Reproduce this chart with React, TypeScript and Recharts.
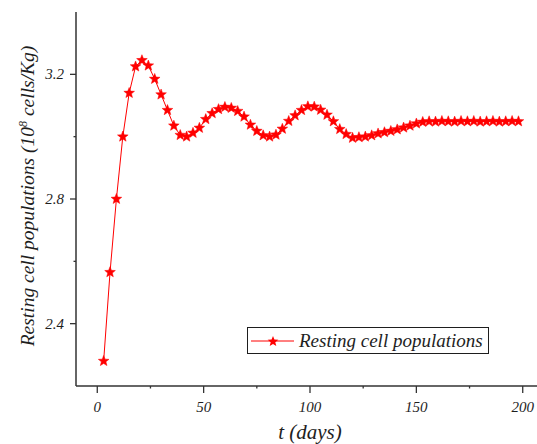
import { LineChart, Line, XAxis, YAxis, Legend, Label } from 'recharts';

// time points (days) and resting cell population (10^8 cells/Kg)
const days = [
  3, 6, 9, 12, 15, 18, 21, 24, 27, 30, 33, 36, 39, 42, 45, 48, 51, 54, 57, 60,
  63, 66, 69, 72, 75, 78, 81, 84, 87, 90, 93, 96, 99, 102, 105, 108, 111, 114, 117, 120,
  123, 126, 129, 132, 135, 138, 141, 144, 147, 150, 153, 156, 159, 162, 165, 168, 171, 174, 177, 180,
  183, 186, 189, 192, 195, 198
];
const restingCells = [
  2.28, 2.565, 2.8, 3.0, 3.14, 3.225, 3.245, 3.228, 3.185, 3.135, 3.085, 3.035, 3.005, 3.0, 3.012, 3.028, 3.056, 3.075, 3.088, 3.095,
  3.092, 3.082, 3.064, 3.038, 3.018, 3.004, 3.0, 3.006, 3.025, 3.05, 3.068, 3.085, 3.097, 3.096, 3.086, 3.07, 3.049, 3.024, 3.008, 2.996,
  2.998, 3.0, 3.004, 3.01, 3.014, 3.018, 3.023, 3.029, 3.035, 3.042, 3.047, 3.049, 3.048, 3.05, 3.049, 3.048, 3.05, 3.049, 3.05, 3.048,
  3.049, 3.05, 3.048, 3.049, 3.05, 3.049
];

const xMajorTicks = [0, 50, 100, 150, 200];
const xMinorTicks = [25, 75, 125, 175];
const yMajorTicks = [2.4, 2.8, 3.2];
const yMinorTicks = [2.6, 3.0];
// the top frame has its own tick spacing in the original figure
const topMajorTicks = [34, 78, 122, 166];
const topMinorTicks = [12, 56, 100, 144, 188];

const seriesName = 'Resting cell populations';

const data = days.map((t, i) => ({ t, value: restingCells[i] }));

const RED = '#ff0000';
const INK = '#1e1e1e';
const AXIS = '#333333';
const FONT = 'Liberation Serif, DejaVu Serif, serif';

function starPoints(cx: number, cy: number, outer: number, inner: number) {
  const pts: string[] = [];
  for (let k = 0; k < 10; k++) {
    const r = k % 2 === 0 ? outer : inner;
    const a = -Math.PI / 2 + (k * Math.PI) / 5;
    pts.push(`${cx + r * Math.cos(a)},${cy + r * Math.sin(a)}`);
  }
  return pts.join(' ');
}

const StarDot = (props: any) => {
  const { cx, cy, index } = props;
  if (cx == null || cy == null) return null;
  return <polygon key={`star-${index}`} points={starPoints(cx, cy, 5.6, 2.4)} fill={RED} stroke={RED} strokeWidth={0.5} />;
};

const BottomTick = (props: any) => {
  const { x, y, payload } = props;
  const major = xMajorTicks.includes(payload.value);
  return (
    <g>
      <line x1={x} x2={x} y1={y} y2={y + (major ? 7 : 2.5)} stroke={AXIS} strokeWidth={1.3} />
      {major && (
        <text x={x} y={y + 26} textAnchor="middle" style={{ fontFamily: FONT, fontStyle: 'italic', fontSize: 15 }} fill={INK}>
          {payload.value}
        </text>
      )}
    </g>
  );
};

const TopTick = (props: any) => {
  const { x, y, payload } = props;
  const major = topMajorTicks.includes(payload.value);
  return <line x1={x} x2={x} y1={y} y2={y + (major ? 7 : 3)} stroke={AXIS} strokeWidth={1.3} />;
};

const LeftTick = (props: any) => {
  const { x, y, payload } = props;
  const major = yMajorTicks.some((v) => Math.abs(v - payload.value) < 1e-6);
  return (
    <g>
      <line x1={x} x2={x - (major ? 6 : 2.5)} y1={y} y2={y} stroke={AXIS} strokeWidth={1.3} />
      {major && (
        <text x={x - 12} y={y + 5} textAnchor="end" style={{ fontFamily: FONT, fontStyle: 'italic', fontSize: 15 }} fill={INK}>
          {payload.value.toFixed(1)}
        </text>
      )}
    </g>
  );
};

const renderLegend = () => (
  <div
    style={{
      boxSizing: 'border-box',
      width: 242,
      height: 27,
      border: `1.5px solid ${INK}`,
      background: '#fff',
      display: 'flex',
      alignItems: 'center',
    }}
  >
    <svg width={49} height={16} style={{ marginLeft: 2, flexShrink: 0 }}>
      <line x1={1} x2={44} y1={8} y2={8} stroke={RED} strokeWidth={1} />
      <polygon points={starPoints(23, 8.5, 5.6, 2.4)} fill={RED} />
    </svg>
    <span style={{ fontFamily: FONT, fontStyle: 'italic', fontSize: 19, color: INK, whiteSpace: 'nowrap' }}>
      {seriesName}
    </span>
  </div>
);

export default function App() {
  return (
    <div style={{ position: 'fixed', left: 0, top: 0, width: 537, height: 444, overflow: 'hidden', background: '#fff' }}>
      <LineChart width={560} height={444} data={data} margin={{ top: 12, right: 16, bottom: 0, left: 0 }}>
        <XAxis
          dataKey="t"
          type="number"
          domain={[-10, 210]}
          ticks={[...xMajorTicks, ...xMinorTicks]}
          tick={<BottomTick />}
          tickLine={false}
          tickSize={0}
          tickMargin={0}
          height={58}
          axisLine={{ stroke: AXIS, strokeWidth: 1.5 }}
          interval={0}
        >
          <Label
            content={(p: any) => {
              const vb = p.viewBox;
              return (
                <text x={vb.x + vb.width / 2} y={vb.y + 53} textAnchor="middle" style={{ fontFamily: FONT, fontStyle: 'italic', fontSize: 21 }} fill={INK}>
                  t (days)
                </text>
              );
            }}
          />
        </XAxis>
        <XAxis
          xAxisId="top"
          orientation="top"
          dataKey="t"
          type="number"
          domain={[-10, 210]}
          ticks={[...topMajorTicks, ...topMinorTicks]}
          tick={<TopTick />}
          tickLine={false}
          tickSize={0}
          tickMargin={0}
          height={0}
          axisLine={{ stroke: AXIS, strokeWidth: 1.5 }}
          interval={0}
        />
        <YAxis
          type="number"
          domain={[2.2, 3.4]}
          ticks={[...yMajorTicks, ...yMinorTicks]}
          tick={<LeftTick />}
          tickLine={false}
          tickSize={0}
          tickMargin={0}
          width={76}
          axisLine={{ stroke: AXIS, strokeWidth: 1.5 }}
          interval={0}
        >
          <Label
            content={(p: any) => {
              const vb = p.viewBox;
              const cx = 34;
              const cy = vb.y + vb.height / 2 - 3;
              return (
                <text
                  x={cx}
                  y={cy}
                  transform={`rotate(-90, ${cx}, ${cy})`}
                  textAnchor="middle"
                  style={{ fontFamily: FONT, fontStyle: 'italic', fontSize: 19.5 }}
                  fill={INK}
                >
                  Resting cell populations (10
                  <tspan dy={-7} style={{ fontSize: 12 }}>8</tspan>
                  <tspan dy={7}> cells/Kg)</tspan>
                </text>
              );
            }}
          />
        </YAxis>
        <Legend
          layout="horizontal"
          verticalAlign="middle"
          align="center"
          content={renderLegend}
          wrapperStyle={{ position: 'absolute', left: 247, top: 327, width: 242, height: 27 }}
        />
        <Line
          type="linear"
          dataKey="value"
          name={seriesName}
          stroke={RED}
          strokeWidth={1}
          dot={StarDot}
          activeDot={false}
          isAnimationActive={false}
        />
      </LineChart>
    </div>
  );
}
